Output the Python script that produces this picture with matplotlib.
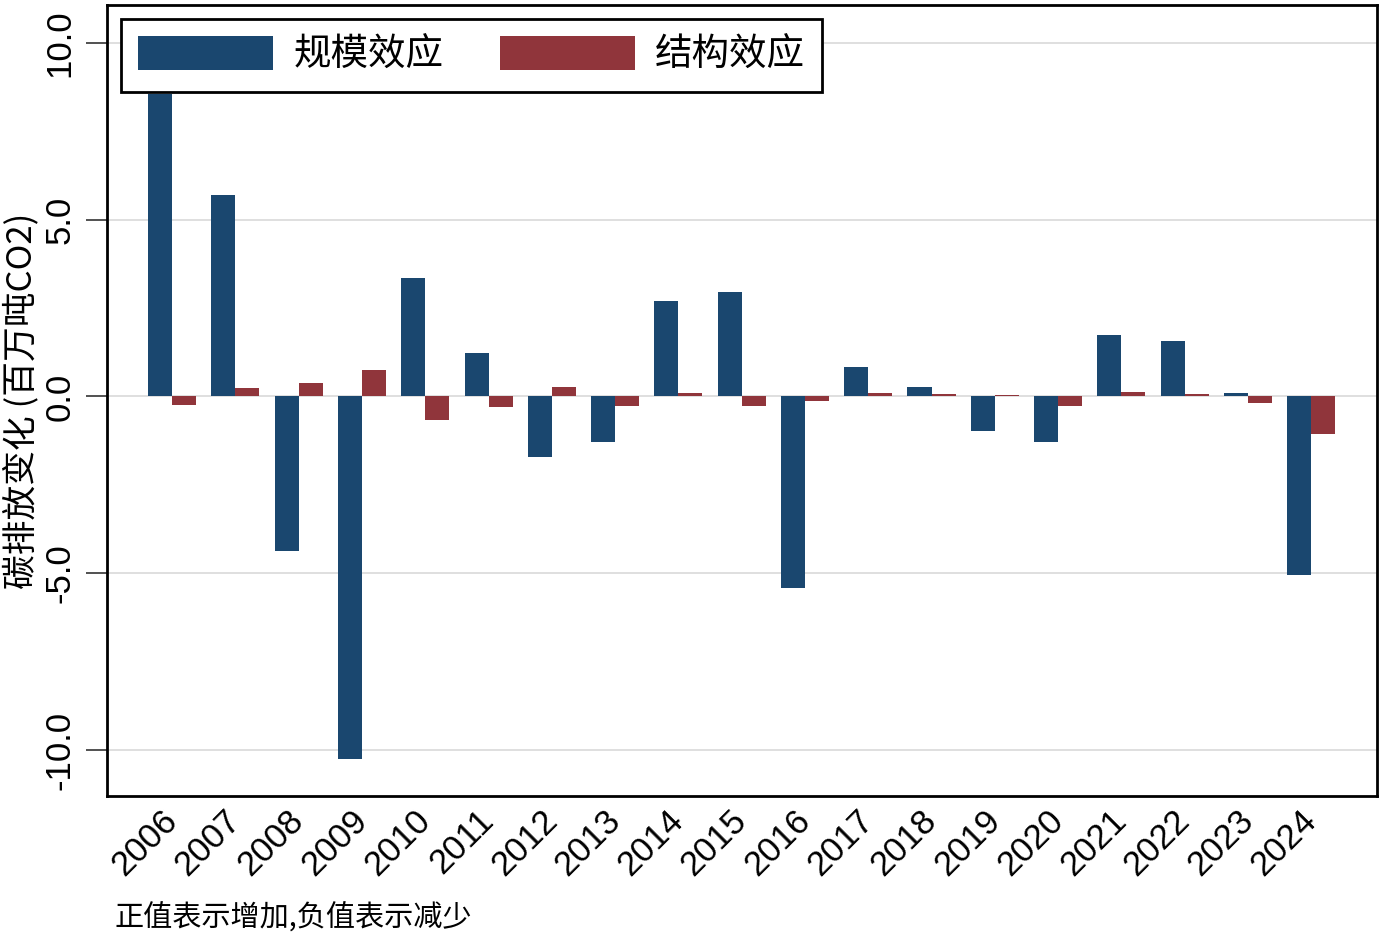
import matplotlib
matplotlib.use("Agg")
import matplotlib.pyplot as plt
import numpy as np

years = ["2006", "2007", "2008", "2009", "2010", "2011", "2012", "2013", "2014", "2015",
         "2016", "2017", "2018", "2019", "2020", "2021", "2022", "2023", "2024"]
scale_effect = [8.54, 5.69, -4.36, -10.24, 3.34, 1.22, -1.70, -1.30, 2.69, 2.94,
                -5.43, 0.82, 0.28, -0.99, -1.30, 1.73, 1.56, 0.11, -5.04]
struct_effect = [-0.25, 0.25, 0.38, 0.76, -0.67, -0.31, 0.26, -0.26, 0.11, -0.27,
                 -0.12, 0.09, 0.07, 0.05, -0.26, 0.13, 0.08, -0.20, -1.06]
yticks = [-10.0, -5.0, 0.0, 5.0, 10.0]
labels = ["规模效应", "结构效应"]
note = "正值表示增加,负值表示减少"
ylabel = "碳排放变化 (百万吨CO2)"

plt.rcParams['font.family'] = ['Liberation Sans', 'Noto Sans CJK SC']

navy = "#1a476f"
maroon = "#90353b"

fig = plt.figure(figsize=(13.82, 9.43), dpi=100)
ax = fig.add_axes([0.0774, 0.1559, 0.919, 0.8388])

x = np.arange(len(years))
w = 0.38
ax.bar(x - w / 2, scale_effect, w, color=navy, label=labels[0], zorder=3)
ax.bar(x + w / 2, struct_effect, w, color=maroon, label=labels[1], zorder=3)

ax.set_xlim(-1.03, len(years) - 1 + 1.04)
ax.set_ylim(-11.30, 11.07)
ax.set_yticks(yticks)
ax.set_yticklabels([f"{v:.1f}" for v in yticks], rotation=90, va="center", fontsize=25)
ax.yaxis.grid(True, color="#d9d9d9", lw=1.2, zorder=0)
ax.tick_params(axis="y", length=15, width=1.2, color="#333333", pad=7)

ax.set_xticks(x)
ax.set_xticklabels(years, rotation=45, ha="right", va="center",
                   rotation_mode="anchor", fontsize=25)
ax.tick_params(axis="x", length=0, pad=14)

for s in ax.spines.values():
    s.set_linewidth(2)
    s.set_color("black")

ax.set_ylabel(ylabel, fontsize=25, family=['Noto Sans CJK SC', 'Liberation Sans'], labelpad=3)

leg = ax.legend(loc="upper left", bbox_to_anchor=(0.011, 0.982), ncol=2,
                prop={'family': ['Noto Sans CJK SC'], 'size': 27},
                handlelength=3.6, handleheight=1.0, columnspacing=1.5,
                handletextpad=0.55, borderpad=0.45, borderaxespad=0,
                fancybox=False, framealpha=1)
leg.get_frame().set_edgecolor("black")
leg.get_frame().set_linewidth(2)

fig.text(0.083, 1 - 918 / 943, note, fontsize=21, va="center",
         family=['Noto Sans CJK SC', 'Liberation Sans'])

fig.savefig("out.png", dpi=100)
